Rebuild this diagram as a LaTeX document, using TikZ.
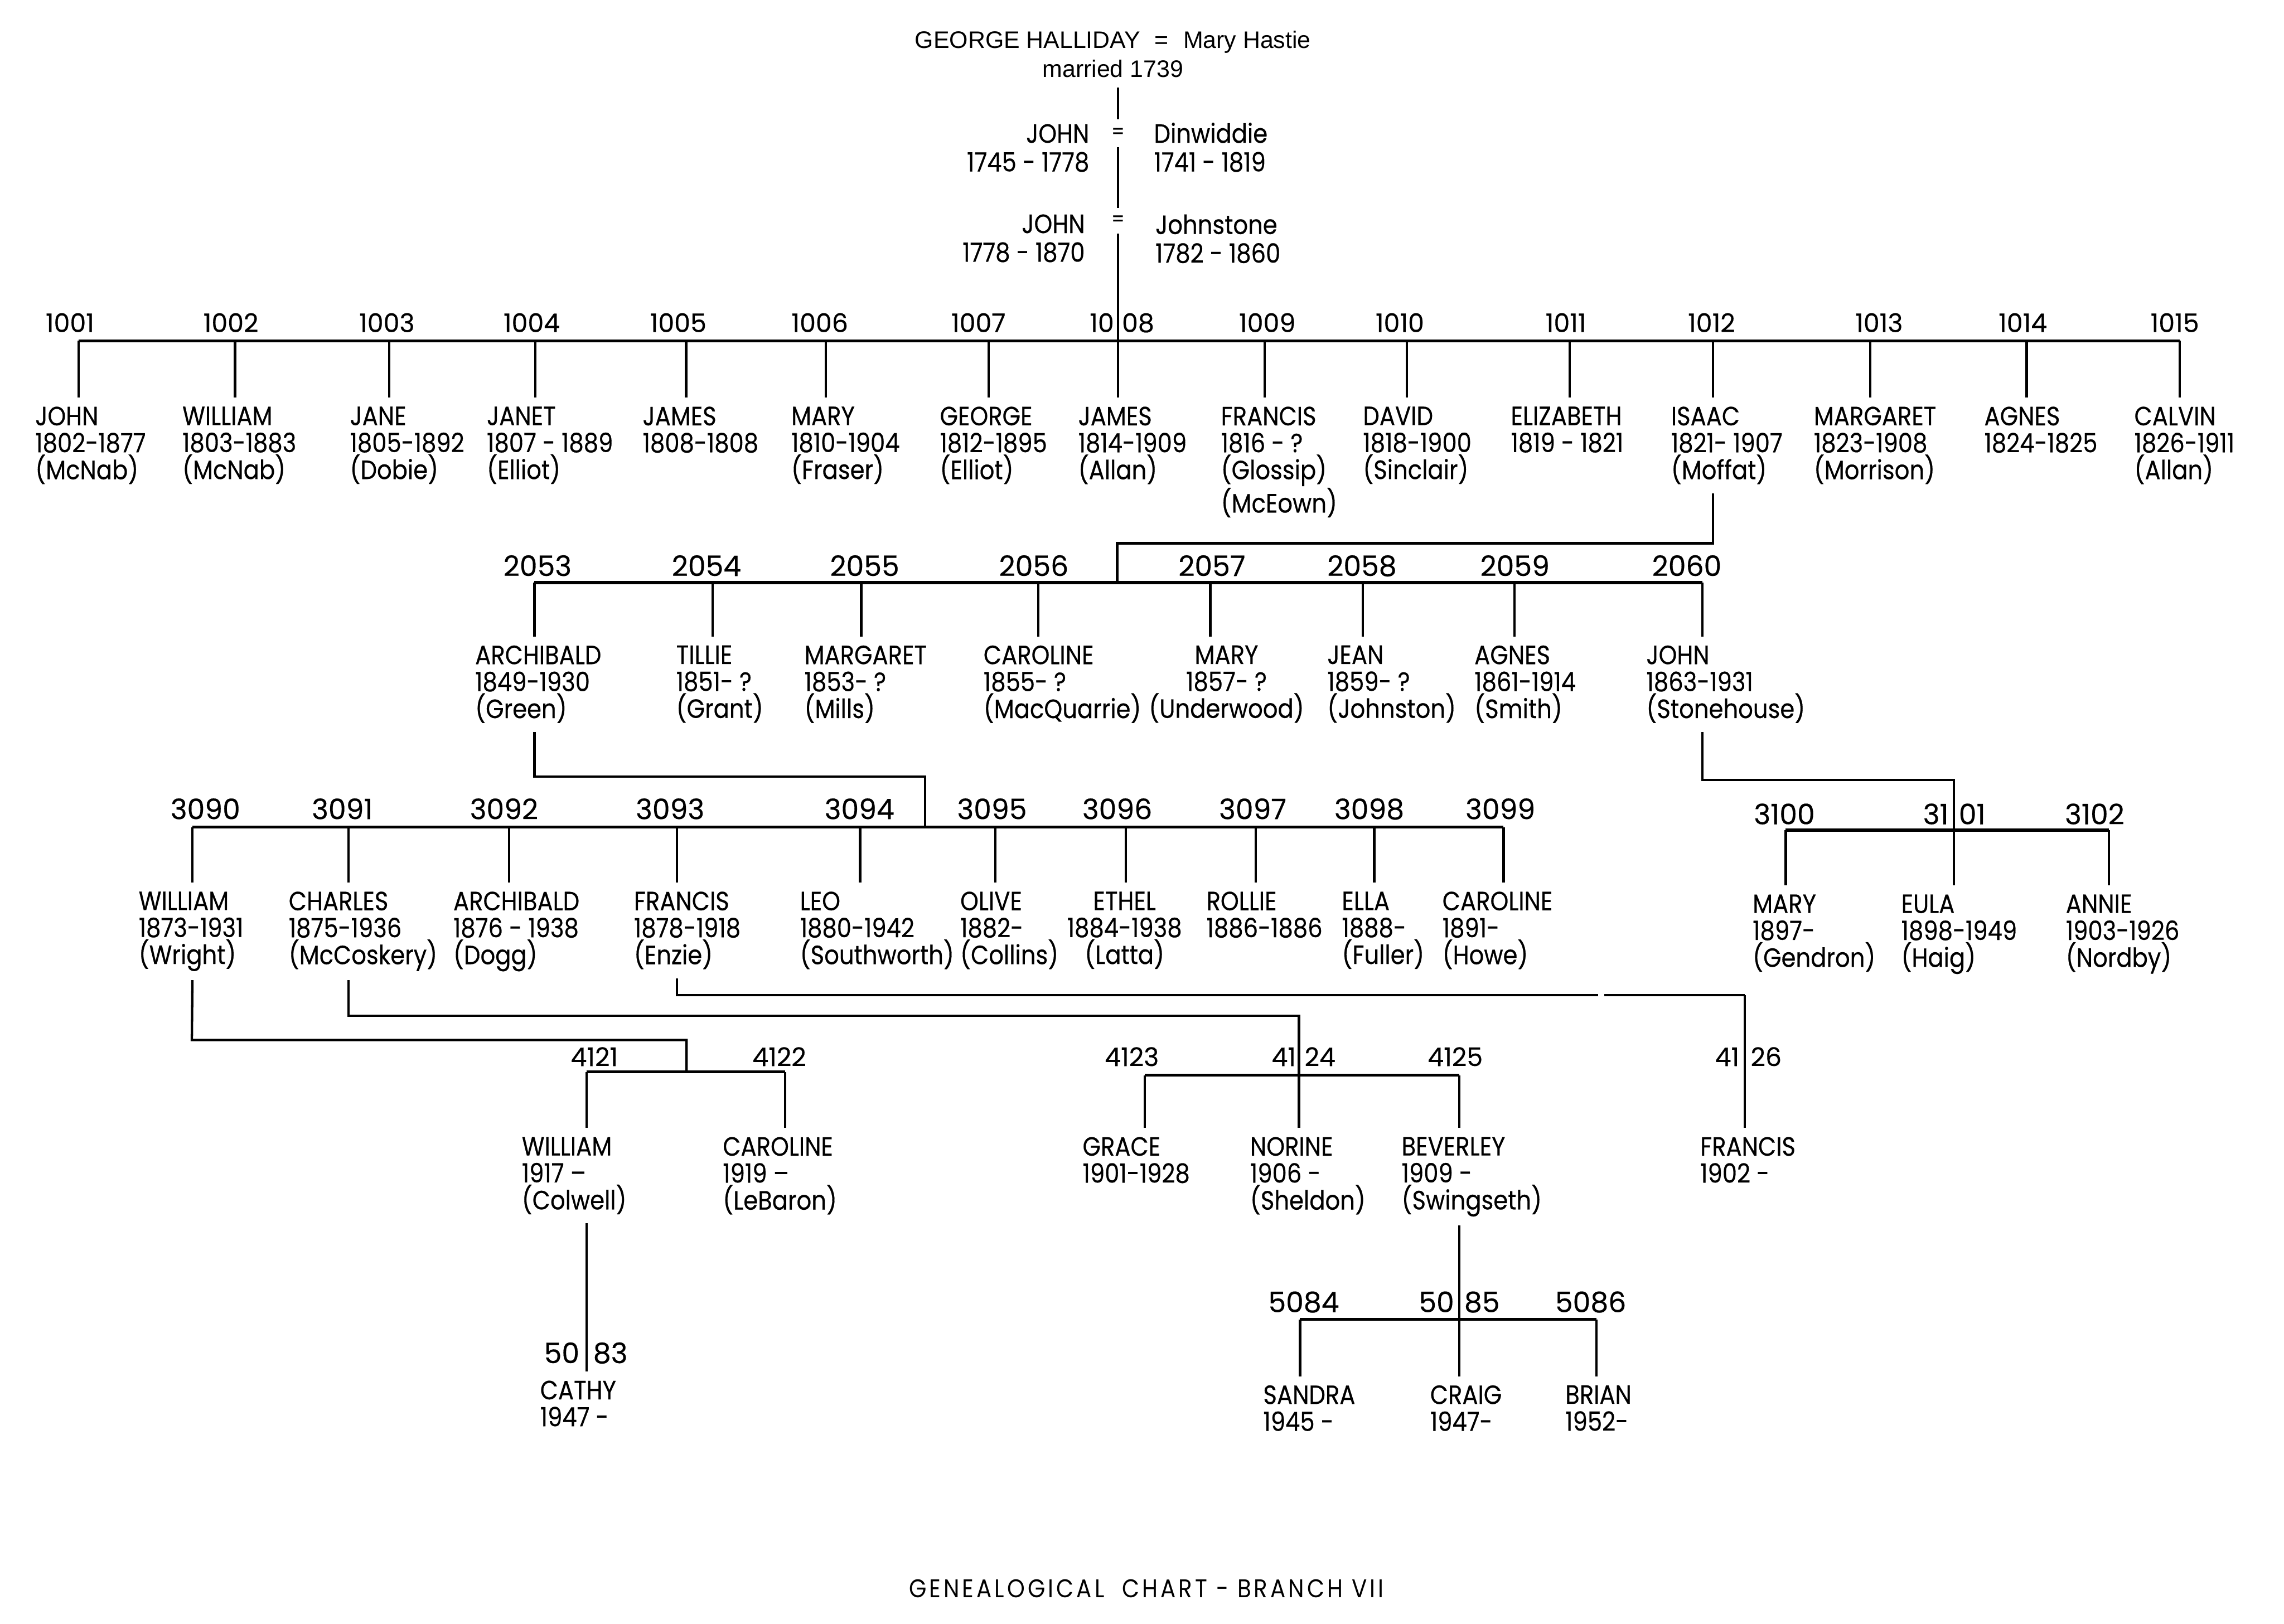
\documentclass[tikz,border=0pt]{standalone}
\usepackage{fontspec}
\setmainfont{Poppins}[FakeStretch=0.88,FakeBold=0.4]
\newfontfamily\numfont{Poppins}[FakeBold=0.4]
\newfontfamily\titlefont{Liberation Sans}
\newfontfamily\footfont{Poppins}[FakeStretch=0.88,LetterSpace=11]
\tikzset{
  ln/.style={line width=1.4pt, black},
  bar/.style={line width=1.7pt, black},
  pers/.style={anchor=north west, align=left, inner xsep=0pt, inner ysep=1.8mm,
    font=\fontsize{15.5}{15.8}\selectfont},
  persc/.style={pers, anchor=north, align=center},
  side/.style={inner sep=0pt, font=\fontsize{15.5}{16.8}\selectfont},
  num/.style={anchor=base, inner sep=0pt, font=\numfont\fontsize{16.5}{17}\selectfont},
  numl/.style={num, anchor=base east},
  numr/.style={num, anchor=base west},
  nums/.style={anchor=base, inner sep=0pt, font=\numfont\fontsize{15}{16}\selectfont},
  numsl/.style={nums, anchor=base east},
  numsr/.style={nums, anchor=base west},
  eqs/.style={inner sep=0pt, minimum width=3mm, font=\fontsize{12}{12}\selectfont},
}
% #1 style, #2 id, #3 drop x, #4 bar y, #5 text x, #6 drop bottom y, #7 text
\newcommand\kidnode[7][pers]{%
  \coordinate (b#2) at (#3,#4);
  \node[#1] (#2) at (#5,#6) {#7};
  \draw[ln] (b#2) -- (b#2 |- #2.north);}
\begin{document}
\begin{tikzpicture}[x=0.3mm,y=-0.3mm]
\fill[white] (0,0) rectangle (1568,1115);
\useasboundingbox (0,0) rectangle (1568,1115);

% ---------- title and ancestors
\node[anchor=north, align=center, inner sep=0pt,
  font=\titlefont\fontsize{14}{17}\selectfont] (gh) at (764,21)
  {GEORGE HALLIDAY\hspace{3mm}=\hspace{3mm}Mary Hastie\\married 1739};
\coordinate (top) at (767.5,60);
\node[eqs, minimum height=5.7mm] (eq1) at (767.5,91.5) {=};
\node[eqs, minimum height=5.1mm] (eq2) at (767.5,151.5) {=};
\node[side, anchor=north east, align=right] (jA) at (748,85) {JOHN\\1745 - 1778};
\node[side, anchor=north west, align=left] (dA) at (792,84) {Dinwiddie\\1741 - 1819};
\node[side, anchor=north east, align=right] (jB) at (745,147) {JOHN\\1778 - 1870};
\node[side, anchor=north west, align=left] (dB) at (793,147) {Johnstone\\1782 - 1860};

% ---------- generation 1000
\kidnode{p1001}{54}{234}{24}{273}{JOHN\\1802-1877\\(McNab)}
\kidnode{p1002}{161.3}{234}{125}{273}{WILLIAM\\1803-1883\\(McNab)}
\kidnode{p1003}{267.2}{234}{240}{273}{JANE\\1805-1892\\(Dobie)}
\kidnode{p1004}{367.5}{234}{334}{273}{JANET\\1807 - 1889\\(Elliot)}
\kidnode{p1005}{471}{234}{441}{273}{JAMES\\1808-1808}
\kidnode{p1006}{567}{234}{543}{273}{MARY\\1810-1904\\(Fraser)}
\kidnode{p1007}{678.6}{234}{645}{273}{GEORGE\\1812-1895\\(Elliot)}
\kidnode{p1008}{767.5}{234}{740}{273}{JAMES\\1814-1909\\(Allan)}
\kidnode{p1009}{868.3}{234}{838}{273}{FRANCIS\\1816 - ?\\(Glossip)\\(McEown)}
\kidnode{p1010}{965.8}{234}{935.5}{273}{DAVID\\1818-1900\\(Sinclair)}
\kidnode{p1011}{1077.6}{234}{1037}{273}{ELIZABETH\\1819 - 1821}
\kidnode{p1012}{1176}{234}{1147}{273}{ISAAC\\1821- 1907\\(Moffat)}
\kidnode{p1013}{1284}{234}{1245}{273}{MARGARET\\1823-1908\\(Morrison)}
\kidnode{p1014}{1391.3}{234}{1362}{273}{AGNES\\1824-1825}
\kidnode{p1015}{1496.5}{234}{1465}{273}{CALVIN\\1826-1911\\(Allan)}
\draw[bar] (bp1001) -- (bp1015);
\draw[ln] (top) -- (eq1);
\draw[ln] (eq1) -- (eq2);
\draw[ln] (eq2) -- (bp1008);

\node[nums] (n1001) at (48,228) {1001};
\node[nums] (n1002) at (158.5,228) {1002};
\node[nums] (n1003) at (265.6,228) {1003};
\node[nums] (n1004) at (365,228) {1004};
\node[nums] (n1005) at (465.6,228) {1005};
\node[nums] (n1006) at (562.8,228) {1006};
\node[nums] (n1007) at (671.7,228) {1007};
\node[numsl] (n1008a) at (765,228) {10};
\node[numsr] (n1008b) at (770,228) {08};
\node[nums] (n1009) at (870,228) {1009};
\node[nums] (n1010) at (961,228) {1010};
\node[nums] (n1011) at (1075,228) {1011};
\node[nums] (n1012) at (1175,228) {1012};
\node[nums] (n1013) at (1290,228) {1013};
\node[nums] (n1014) at (1388.7,228) {1014};
\node[nums] (n1015) at (1493,228) {1015};

% ---------- generation 2000
\kidnode{p2053}{366.9}{400}{326}{437}{ARCHIBALD\\1849-1930\\(Green)}
\kidnode{p2054}{489.2}{400}{464}{437}{TILLIE\\1851- ?\\(Grant)}
\kidnode{p2055}{591.3}{400}{552}{437}{MARGARET\\1853- ?\\(Mills)}
\kidnode{p2056}{712.8}{400}{675}{437}{CAROLINE\\1855- ?\\(MacQuarrie)}
\kidnode[persc]{p2057}{830.9}{400}{842}{437}{MARY\\1857- ?\\(Underwood)}
\kidnode{p2058}{935.5}{400}{911}{437}{JEAN\\1859- ?\\(Johnston)}
\kidnode{p2059}{1039.6}{400}{1012}{437}{AGNES\\1861-1914\\(Smith)}
\kidnode{p2060}{1168.7}{400}{1130}{437}{JOHN\\1863-1931\\(Stonehouse)}
\draw[bar] (bp2053) -- (bp2060);
\coordinate (k1012) at (1176,373);
\coordinate (j2) at (767,400);
\draw[ln] (p1012.south -| bp1012) -- (k1012) -| (j2);

\node[num] (n2053) at (369,395.5) {2053};
\node[num] (n2054) at (485,395.5) {2054};
\node[num] (n2055) at (593.6,395.5) {2055};
\node[num] (n2056) at (709.7,395.5) {2056};
\node[num] (n2057) at (832,395.5) {2057};
\node[num] (n2058) at (935,395.5) {2058};
\node[num] (n2059) at (1040,395.5) {2059};
\node[num] (n2060) at (1158,395.5) {2060};

% ---------- generation 3000
\kidnode{p3090}{132.1}{568}{95}{606}{WILLIAM\\1873-1931\\(Wright)}
\kidnode{p3091}{239.2}{568}{198}{606}{CHARLES\\1875-1936\\(McCoskery)}
\kidnode{p3092}{349.6}{568}{311}{606}{ARCHIBALD\\1876 - 1938\\(Dogg)}
\kidnode{p3093}{464.7}{568}{435}{606}{FRANCIS\\1878-1918\\(Enzie)}
\kidnode{p3094}{590.5}{568}{549}{606}{LEO\\1880-1942\\(Southworth)}
\kidnode{p3095}{683.4}{568}{659}{606}{OLIVE\\1882-\\(Collins)}
\kidnode[persc]{p3096}{772.8}{568}{772}{606}{ETHEL\\1884-1938\\(Latta)}
\kidnode{p3097}{862.2}{568}{828}{606}{ROLLIE\\1886-1886}
\kidnode{p3098}{943.4}{568}{921}{606}{ELLA\\1888-\\(Fuller)}
\kidnode{p3099}{1032.2}{568}{990}{606}{CAROLINE\\1891-\\(Howe)}
\draw[bar] (bp3090) -- (bp3099);
\coordinate (k2053) at (366.9,533.3);
\coordinate (j3) at (635.2,568);
\draw[ln] (p2053.south -| bp2053) -- (k2053) -| (j3);

\kidnode{p3100}{1225.9}{570}{1203}{608}{MARY\\1897-\\(Gendron)}
\kidnode{p3101}{1341.4}{570}{1305}{608}{EULA\\1898-1949\\(Haig)}
\kidnode{p3102}{1447.7}{570}{1418}{608}{ANNIE\\1903-1926\\(Nordby)}
\draw[bar] (bp3100) -- (bp3102);
\coordinate (k2060) at (1168.7,535.5);
\draw[ln] (p2060.south -| bp2060) -- (k2060) -| (bp3101);

\node[num] (n3090) at (141,562.5) {3090};
\node[num] (n3091) at (235,562.5) {3091};
\node[num] (n3092) at (346,562.5) {3092};
\node[num] (n3093) at (460,562.5) {3093};
\node[num] (n3094) at (590,562.5) {3094};
\node[num] (n3095) at (681,562.5) {3095};
\node[num] (n3096) at (767,562.5) {3096};
\node[num] (n3097) at (860,562.5) {3097};
\node[num] (n3098) at (940,562.5) {3098};
\node[num] (n3099) at (1030,562.5) {3099};
\node[num] (n3100) at (1225,566) {3100};
\node[numl] (n3101a) at (1338,566) {31};
\node[numr] (n3101b) at (1344.5,566) {01};
\node[num] (n3102) at (1438,566) {3102};

% ---------- generation 4000
\kidnode{p4121}{402.6}{736}{358}{774.5}{WILLIAM\\1917 –\\(Colwell)}
\kidnode{p4122}{539}{736}{496}{774.5}{CAROLINE\\1919 –\\(LeBaron)}
\draw[bar] (bp4121) -- (bp4122);
\coordinate (k3090) at (131.7,714.1);
\coordinate (j4a) at (471.3,736);
\draw[ln] (p3090.south -| bp3090) -- (k3090) -| (j4a);

\kidnode{p4123}{786}{738.3}{743}{774.5}{GRACE\\1901-1928}
\kidnode{p4124}{891.7}{738.3}{858}{774.5}{NORINE\\1906 -\\(Sheldon)}
\kidnode{p4125}{1001.7}{738.3}{962}{774.5}{BEVERLEY\\1909 -\\(Swingseth)}
\draw[bar] (bp4123) -- (bp4125);
\coordinate (k3091) at (239.2,697.6);
\draw[ln] (p3091.south -| bp3091) -- (k3091) -| (bp4124);

\kidnode{p4126}{1197.9}{683.3}{1167}{774.5}{FRANCIS\\1902 -}
\coordinate (k3093) at (464.7,683.3);
\coordinate (g1) at (1097,683.3);
\coordinate (g2) at (1101.5,683.3);
\draw[ln] (p3093.south -| bp3093) -- (k3093) -- (g1);
\draw[ln] (g2) -- (bp4126);

\node[nums] (n4121) at (408,732) {4121};
\node[nums] (n4122) at (535,732) {4122};
\node[nums] (n4123) at (777,732) {4123};
\node[numsl] (n4124a) at (889.9,732) {41};
\node[numsr] (n4124b) at (895.4,732) {24};
\node[nums] (n4125) at (999,732) {4125};
\node[numsl] (n4126a) at (1194.3,732) {41};
\node[numsr] (n4126b) at (1201.6,732) {26};

% ---------- generation 5000
\node[pers] (p5083) at (370.6,941.8) {CATHY\\1947 -};
\draw[ln] (p4121.south -| bp4121) -- (bp4121 |- p5083.north);
\node[numl] (n5083a) at (398,936) {50};
\node[numr] (n5083b) at (407,936) {83};

\kidnode{p5084}{892.5}{906}{867}{945}{SANDRA\\1945 -}
\kidnode{p5085}{1001.7}{906}{981.6}{945}{CRAIG\\1947-}
\kidnode{p5086}{1096}{906}{1074.4}{945}{BRIAN\\1952-}
\draw[bar] (bp5084) -- (bp5086);
\draw[ln] (p4125.south -| bp4125) -- (bp5085);

\node[num] (n5084) at (895,901) {5084};
\node[numl] (n5085a) at (998.5,901) {50};
\node[numr] (n5085b) at (1005,901) {85};
\node[num] (n5086) at (1092,901) {5086};

% ---------- footer
\node[anchor=base, inner sep=0pt, font=\footfont\fontsize{15}{16}\selectfont] (foot)
  at (787,1097) {GENEALOGICAL\ \ CHART - BRANCH VII};
\end{tikzpicture}
\end{document}
